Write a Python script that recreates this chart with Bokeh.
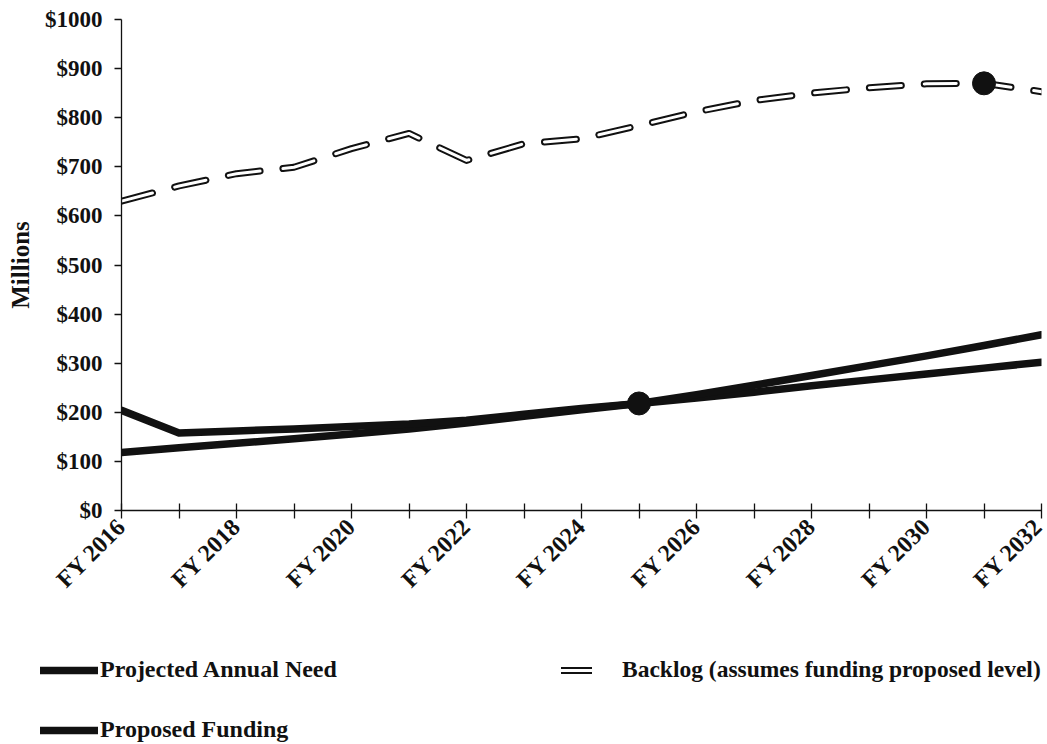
import math
from bokeh.plotting import figure
from bokeh.models import FixedTicker, Legend, LegendItem, Range1d
from bokeh.embed import file_html
from bokeh.resources import INLINE

# ---- data ----
years = list(range(2016, 2033))
projected_need = [204, 158, 162, 166, 171, 176, 184, 196, 208, 218, 236, 255, 275, 295, 315, 336, 358]
proposed_funding = [118, 128, 137, 146, 156, 166, 178, 192, 205, 218, 229, 241, 254, 266, 278, 290, 302]
backlog = [630, 661, 686, 699, 737, 768, 713, 747, 757, 784, 812, 835, 850, 861, 869, 870, 853]
marker_years = [2025, 2031]
marker_values = [218, 870]
y_ticks = list(range(0, 1001, 100))
y_tick_labels = {t: "$%d" % t for t in y_ticks}
x_tick_labels = {y: ("FY %d" % y if y % 2 == 0 else "") for y in years}
legend_labels = ["Projected Annual Need", "Backlog (assumes funding proposed level)", "Proposed Funding"]

FONT = "Liberation Serif"
INK = "#111111"
W = 1047

NEED_STYLE = dict(line_width=7.5, color=INK, line_join="round", line_cap="round")
BACK_OUT = dict(line_width=7, color=INK, line_dash="32 23", line_cap="round", line_join="round")
BACK_IN = dict(line_width=3, color="white", line_dash="32 23", line_cap="round", line_join="round")

# ---------------- main chart ----------------
p = figure(width=W, height=605, output_backend="svg", toolbar_location=None,
           x_range=Range1d(2016, 2032), y_range=Range1d(0, 1000),
           min_border_left=121, min_border_right=6, min_border_top=19, min_border_bottom=95)
p.outline_line_color = None
p.xgrid.visible = False
p.ygrid.visible = False

p.line(years, proposed_funding, **NEED_STYLE)
p.line(years, projected_need, **NEED_STYLE)
p.line(years, backlog, **BACK_OUT)
p.line(years, backlog, **BACK_IN)
p.scatter(marker_years, marker_values, size=23, color=INK)

xa = p.xaxis[0]
xa.ticker = FixedTicker(ticks=years)
xa.major_label_overrides = x_tick_labels
xa.major_label_orientation = math.pi / 4
xa.major_tick_in = 7
xa.major_tick_out = 8
xa.minor_tick_line_color = None
xa.axis_line_color = INK
xa.major_tick_line_color = INK
xa.axis_line_width = 1.3
xa.major_tick_line_width = 1.3
xa.major_label_text_font = FONT
xa.major_label_text_font_style = "bold"
xa.major_label_text_font_size = "24px"
xa.major_label_text_color = INK
xa.major_label_standoff = 4

ya = p.yaxis[0]
ya.ticker = FixedTicker(ticks=y_ticks)
ya.major_label_overrides = y_tick_labels
ya.major_tick_in = 0
ya.major_tick_out = 7
ya.minor_tick_line_color = None
ya.axis_line_color = INK
ya.major_tick_line_color = INK
ya.axis_line_width = 1.3
ya.major_tick_line_width = 1.3
ya.major_label_text_font = FONT
ya.major_label_text_font_style = "bold"
ya.major_label_text_font_size = "23px"
ya.major_label_text_color = INK
ya.major_label_standoff = 12
ya.axis_label = "Millions"
ya.axis_label_text_font = FONT
ya.axis_label_text_font_style = "bold"
ya.axis_label_text_font_size = "25px"
ya.axis_label_text_color = INK
ya.axis_label_standoff = 8

# ---------------- legend strip (separate root, no frame alignment) ----------------
LH = 138
q = figure(width=W, height=LH, output_backend="svg", toolbar_location=None,
           x_range=Range1d(0, W), y_range=Range1d(0, LH),
           x_axis_type=None, y_axis_type=None,
           min_border=0, min_border_left=0, min_border_right=0, min_border_top=0, min_border_bottom=0)
q.outline_line_color = None
q.xgrid.visible = False
q.ygrid.visible = False

nan = [float("nan")]
l_need = q.line(nan, nan, **NEED_STYLE)
l_fund = q.line(nan, nan, **NEED_STYLE)
l_bo = q.line(nan, nan, **BACK_OUT)
l_bi = q.line(nan, nan, **BACK_IN)

def make_legend(items, loc, glyph_w, standoff, size):
    lg = Legend(items=items, location=loc, orientation="horizontal")
    lg.border_line_color = None
    lg.background_fill_alpha = 0
    lg.padding = 0
    lg.margin = 0
    lg.glyph_width = glyph_w
    lg.glyph_height = 20
    lg.label_standoff = standoff
    lg.label_text_font = FONT
    lg.label_text_font_style = "bold"
    lg.label_text_font_size = size
    lg.label_text_color = INK
    return lg

leg_need = make_legend([LegendItem(label=legend_labels[0], renderers=[l_need])], (40, 60), 58, 2, "24px")
leg_back = make_legend([LegendItem(label=legend_labels[1], renderers=[l_bo, l_bi])], (561, 60), 31, 30, "23.5px")
leg_fund = make_legend([LegendItem(label=legend_labels[2], renderers=[l_fund])], (40, 0), 58, 2, "24px")
q.add_layout(leg_need)
q.add_layout(leg_back)
q.add_layout(leg_fund)

open("out.html", "w").write(file_html([p, q], INLINE))
